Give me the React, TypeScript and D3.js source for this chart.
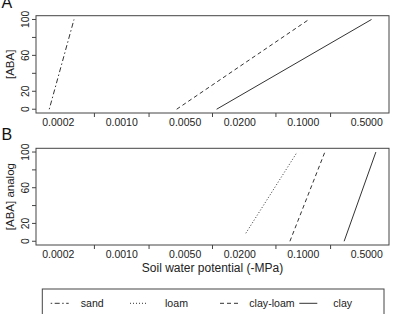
import React from "react";
import * as d3 from "d3";

const xTickLabels = [0.0002, 0.001, 0.005, 0.02, 0.1, 0.5];
const xTickMarks = [0.0005, 0.002, 0.01, 0.05, 0.2];
const yTicks = [0, 20, 40, 60, 80, 100];
const yLabelTicks = [0, 20, 60, 100];

const seriesNames = ["sand", "loam", "clay-loam", "clay"];
const seriesDash = ["1.5 2.5 5 2.5", "1 2", "4 3", ""];

// Panel A: [ABA] vs soil water potential
const sandA_x = [0.000159, 0.000298];
const sandA_y = [0, 100];
const clayLoamA_x = [0.00403, 0.1154];
const clayLoamA_y = [0, 100];
const clayA_x = [0.0111, 0.565];
const clayA_y = [0, 100];

// Panel B: [ABA] analog
const loamB_x = [0.0233, 0.0857];
const loamB_y = [9, 100];
const clayLoamB_x = [0.0713, 0.173];
const clayLoamB_y = [0, 100];
const clayB_x = [0.282, 0.631];
const clayB_y = [0, 100];

const FONT = "'Liberation Sans', Arial, Helvetica, sans-serif";
const AX = "#444";
const LINE = "#333";

const x = d3.scaleLog().domain([0.0001136, 0.8804]).range([36, 389]);
const fmt = d3.format(".4f");

type S = { xs: number[]; ys: number[]; idx: number };

function Panel({ top, bottom, ylab, letter, letterY, series, xlab }: {
  top: number; bottom: number; ylab: string; letter: string; letterY: number; series: S[]; xlab?: string;
}) {
  const y = d3.scaleLinear().domain([-4.2, 104.2]).range([bottom, top]);
  const line = d3.line<[number, number]>().x(d => x(d[0])).y(d => y(d[1]));
  const [x0, x1] = x.range();
  return (
    <g>
      <text x={1.5} y={letterY} fontSize={16} fontFamily={FONT} fill="#111">{letter}</text>
      <rect x={x0} y={top} width={x1 - x0} height={bottom - top} fill="none" stroke={AX} strokeWidth={1} />
      {series.map((s, i) => (
        <path key={i} d={line(s.xs.map((v, j) => [v, s.ys[j]]) as [number, number][]) || ""}
          fill="none" stroke={LINE} strokeWidth={1} strokeDasharray={seriesDash[s.idx]} />
      ))}
      {yTicks.map(t => (
        <line key={t} x1={x0 - 4} x2={x0} y1={y(t)} y2={y(t)} stroke={AX} />
      ))}
      {yLabelTicks.map(t => (
        <text key={t} transform={`translate(${28.5},${y(t)}) rotate(-90)`} textAnchor="middle"
          fontSize={10.3} fontFamily={FONT} fill="#222">{t}</text>
      ))}
      <text transform={`translate(${14},${(top + bottom) / 2}) rotate(-90)`} textAnchor="middle"
        fontSize={11.5} fontFamily={FONT} fill="#222">{ylab}</text>
      {xTickMarks.map(t => (
        <line key={t} x1={x(t)} x2={x(t)} y1={bottom} y2={bottom + 4} stroke={AX} />
      ))}
      {xTickLabels.map(t => (
        <text key={t} x={x(t)} y={bottom + 12.5} textAnchor="middle" fontSize={10.5} fontFamily={FONT} fill="#222">{fmt(t)}</text>
      ))}
      {xlab && (
        <text x={(x0 + x1) / 2} y={bottom + 27.3} textAnchor="middle" fontSize={12} fontFamily={FONT} fill="#222">{xlab}</text>
      )}
    </g>
  );
}

const legendLineX = [50.7, 130, 220, 299.3];
const legendTextX = [80.7, 165, 249.3, 333.3];

export default function App() {
  return (
    <svg width={394} height={314} style={{ position: "absolute", left: 0, top: 0, background: "#fff" }}>
      <rect width={394} height={314} fill="#fff" />
      <Panel top={15.7} bottom={113} ylab="[ABA]" letter="A" letterY={8.3}
        series={[
          { xs: sandA_x, ys: sandA_y, idx: 0 },
          { xs: clayLoamA_x, ys: clayLoamA_y, idx: 2 },
          { xs: clayA_x, ys: clayA_y, idx: 3 },
        ]} />
      <Panel top={148.3} bottom={245} ylab="[ABA] analog" letter="B" letterY={140}
        xlab="Soil water potential (-MPa)"
        series={[
          { xs: loamB_x, ys: loamB_y, idx: 1 },
          { xs: clayLoamB_x, ys: clayLoamB_y, idx: 2 },
          { xs: clayB_x, ys: clayB_y, idx: 3 },
        ]} />
      <rect x={42.3} y={289} width={341.7} height={30} fill="none" stroke={AX} strokeWidth={1} />
      {seriesNames.map((n, i) => (
        <g key={n}>
          <line x1={legendLineX[i]} x2={legendLineX[i] + 18} y1={303.3} y2={303.3} stroke={LINE}
            strokeDasharray={seriesDash[i]} />
          <text x={legendTextX[i]} y={307} fontSize={10.6} fontFamily={FONT} fill="#222">{n}</text>
        </g>
      ))}
    </svg>
  );
}
